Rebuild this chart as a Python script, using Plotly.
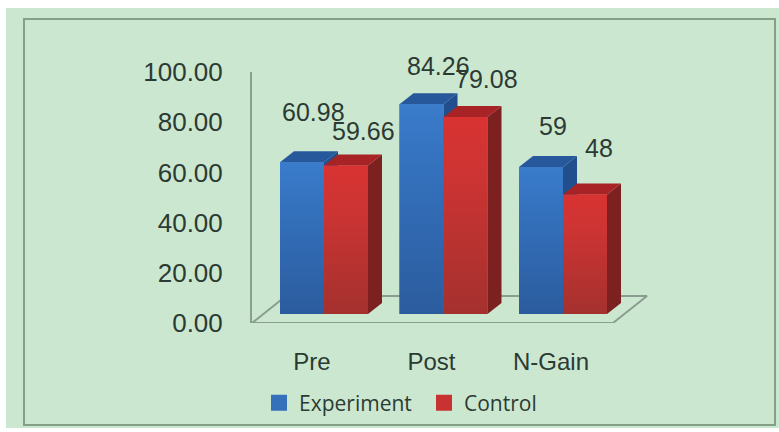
import plotly.graph_objects as go

categories = ["Pre", "Post", "N-Gain"]
experiment = [60.98, 84.26, 59]
control = [59.66, 79.08, 48]
experiment_labels = ["60.98", "84.26", "59"]
control_labels = ["59.66", "79.08", "48"]
y_ticks = [0, 20, 40, 60, 80, 100]

W, H = 779, 432
UNIT_X = 119.5
BAR = 44 / UNIT_X
DX, DY = 14 / UNIT_X, 11 / 2.49
FONT = "Liberation Sans"
INK = "#2b3a33"
AXIS = "#8b9d90"
BG = "#cce7d0"

fig = go.Figure()

styles = [
    dict(name="Experiment", vals=experiment, labels=experiment_labels, base="#3570bb",
         top="#27589c", side="#214f8e", grad=[[0, "#2b5c9e"], [0.7, "#3471bd"], [1, "#3a7ccb"]],
         shifts=[(11, 50), (17, 38), (12, 41)]),
    dict(name="Control", vals=control, labels=control_labels, base="#c83232",
         top="#a82326", side="#7c2020", grad=[[0, "#a4312e"], [0.7, "#cc3433"], [1, "#d83332"]],
         shifts=[(17, 34), (21, 38), (14, 46)]),
]

# Bars (front plane of the columns)
for s in styles:
    fig.add_trace(go.Bar(x=list(range(len(categories))), y=s["vals"], name=s["name"],
                         marker=dict(color=s["base"], line=dict(width=0)), showlegend=False,
                         xaxis="x2", yaxis="y2", cliponaxis=False, hoverinfo="skip"))

# Floor of the 3-D box, in the front-plane axes
x0, x1 = (252 - 312) / UNIT_X, (613 - 312) / UNIT_X
x_end = (660 - 312) / UNIT_X
fdx, fdy = 34 / UNIT_X, 27 / 2.51
fig.add_trace(go.Scatter(x=[x0, x0 + fdx, x1 + fdx, x1, x0], y=[0, fdy, fdy, 0, 0], mode="lines",
                         line=dict(color=AXIS, width=2), showlegend=False,
                         hoverinfo="skip", xaxis="x", yaxis="y"))

# Side, top and shaded front of each column, derived from the values
for i, s in enumerate(styles):
    for j, v in enumerate(s["vals"]):
        xl = j + (i - 1) * BAR
        xr = xl + BAR
        polys = [
            ([xr, xr, xr + DX, xr + DX, xr], [0, v, v + DY, DY, 0], dict(fillcolor=s["side"])),
            ([xl, xr, xr + DX, xl + DX, xl], [v, v, v + DY, v + DY, v], dict(fillcolor=s["top"])),
            ([xl, xr, xr, xl, xl], [0, 0, v, v, 0],
             dict(fillgradient=dict(type="vertical", colorscale=s["grad"]))),
        ]
        for px, py, fill in polys:
            fig.add_trace(go.Scatter(x=px, y=py, mode="lines", fill="toself",
                                     line=dict(width=0), showlegend=False,
                                     hoverinfo="skip", xaxis="x2", yaxis="y2", **fill))
        sx, sy = s["shifts"][j]
        fig.add_annotation(x=xl + BAR / 2, y=v, xref="x2", yref="y2", text=s["labels"][j],
                           showarrow=False, xshift=sx, yshift=sy, xanchor="center", yanchor="middle",
                           font=dict(family=FONT, size=25, color=INK))

# Legend entries with the reference's larger square swatches
for s in styles:
    fig.add_trace(go.Scatter(x=[None], y=[None], mode="markers", name=s["name"],
                             marker=dict(symbol="square", size=16, color=s["base"]),
                             xaxis="x2", yaxis="y2", hoverinfo="skip"))

fig.update_layout(
    width=W, height=H, margin=dict(l=0, r=0, t=0, b=0, autoexpand=False),
    paper_bgcolor="white", plot_bgcolor="rgba(0,0,0,0)",
    barmode="group", bargap=1 - 2 * BAR, bargroupgap=0,
    font=dict(family=FONT, color=INK),
    xaxis=dict(domain=[252 / W, 660 / W], range=[x0, x_end], tickvals=[0, 1, 2], ticktext=categories,
               showgrid=False, zeroline=False, showline=False,
               ticks="", ticklabelstandoff=22, tickfont=dict(family=FONT, size=24, color=INK)),
    yaxis=dict(domain=[(H - 323) / H, (H - 72) / H], range=[0, 100], tickvals=y_ticks,
               tickformat=".2f", showgrid=False, zeroline=False, showline=True, linecolor=AXIS,
               linewidth=2, ticks="", ticklabelstandoff=22,
               tickfont=dict(family=FONT, size=26, color=INK)),
    xaxis2=dict(domain=[252 / W, 660 / W], range=[(252 - 324) / UNIT_X, (660 - 324) / UNIT_X],
                overlaying="x", visible=False),
    yaxis2=dict(domain=[(H - 323) / H, (H - 72) / H], range=[-9 / 2.49, 242 / 2.49],
                overlaying="y", visible=False),
    legend=dict(orientation="h", x=259 / W, y=1 - 403 / H, xanchor="left", yanchor="middle",
                bgcolor="rgba(0,0,0,0)", font=dict(family="Open Sans", size=21, color=INK),
                entrywidthmode="pixels", entrywidth=120, itemsizing="trace"),
    shapes=[
        dict(type="rect", xref="paper", yref="paper", x0=6 / W, x1=1, y0=1 - 428 / H, y1=1 - 8 / H,
             fillcolor=BG, line=dict(width=0), layer="below"),
        dict(type="rect", xref="paper", yref="paper", x0=24 / W, x1=775 / W, y0=1 - 425 / H, y1=1 - 19 / H,
             fillcolor=BG, line=dict(color="#84a088", width=2), layer="below"),
    ],
)

fig.write_html("out.html", config={"displayModeBar": False},
               post_script="document.body.style.margin='0';")
